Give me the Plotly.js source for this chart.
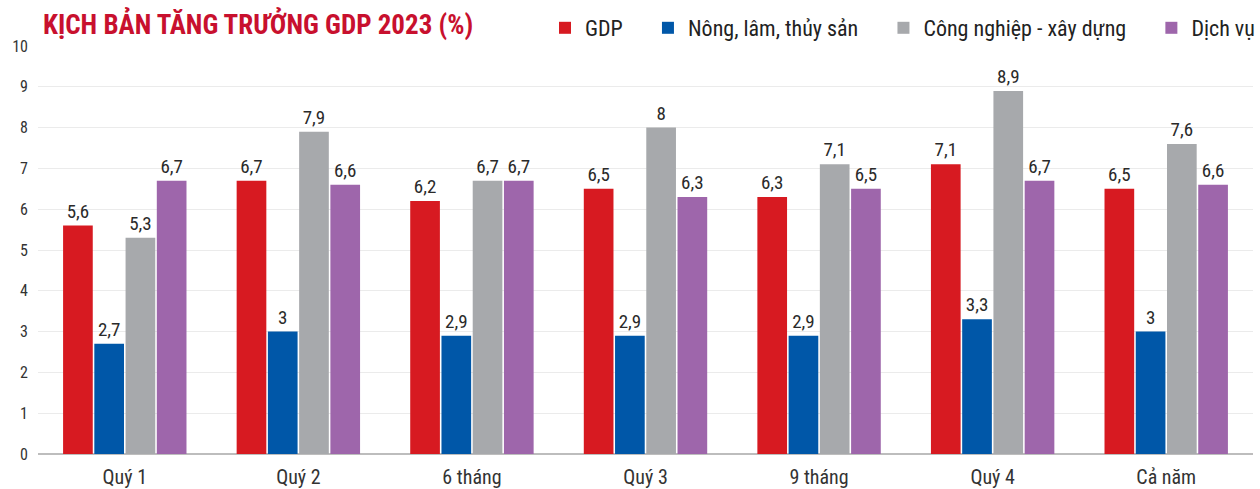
<!DOCTYPE html>
<html>
<head>
<meta charset="utf-8">
<script src="https://cdn.plot.ly/plotly-3.0.1.min.js"></script>
<style>html,body{margin:0;padding:0;background:#fff;}#chart{width:1260px;height:489px;}</style>
</head>
<body>
<div id="chart"></div>
<script>
const categories = ["Quý 1", "Quý 2", "6 tháng", "Quý 3", "9 tháng", "Quý 4", "Cả năm"];
const seriesNames = ["GDP", "Nông, lâm, thủy sản", "Công nghiệp - xây dựng", "Dịch vụ"];
const gdp = [5.6, 6.7, 6.2, 6.5, 6.3, 7.1, 6.5];
const nongLamThuySan = [2.7, 3, 2.9, 2.9, 2.9, 3.3, 3];
const congNghiepXayDung = [5.3, 7.9, 6.7, 8, 7.1, 8.9, 7.6];
const dichVu = [6.7, 6.6, 6.7, 6.3, 6.5, 6.7, 6.6];
const colors = ["#d71a21", "#0057a8", "#a7a9ac", "#9e66ab"];

const FONT = "'Roboto Condensed', 'DejaVu Sans Condensed', Roboto, sans-serif";
const fmt = v => String(v).replace(".", ",");
const PAD = "\u00a0\u00a0\u00a0\u00a0";

const allSeries = [gdp, nongLamThuySan, congNghiepXayDung, dichVu];
const traces = allSeries.map((vals, i) => ({
  type: "bar",
  name: seriesNames[i] + (i < allSeries.length - 1 ? PAD : ""),
  x: categories,
  y: vals,
  text: vals.map(fmt),
  textposition: "outside",
  constraintext: "none",
  cliponaxis: false,
  textfont: {family: FONT, size: 19, color: "#2a2a2a"},
  marker: {color: colors[i]},
  hoverinfo: "x+y"
}));

const layout = {
  width: 1260,
  height: 489,
  margin: {l: 38, r: 7, t: 46, b: 35, autoexpand: false},
  paper_bgcolor: "#fff",
  plot_bgcolor: "#fff",
  barmode: "group",
  bargap: 0.28,
  bargroupgap: 0.05,
  font: {family: FONT, color: "#333"},
  title: {
    text: "<b>KỊCH BẢN TĂNG TRƯỞNG GDP 2023 (%)</b>",
    font: {family: FONT, size: 27, color: "#c8102e"},
    xref: "container", yref: "container",
    x: 43/1260, xanchor: "left",
    y: 1 - 25/489, yanchor: "middle"
  },
  showlegend: true,
  legend: {
    orientation: "h",
    xref: "container", yref: "container",
    x: 545/1260, xanchor: "left",
    y: 1 - 28/489, yanchor: "middle",
    font: {family: FONT, size: 22, color: "#222"},
    itemwidth: 30,
    bgcolor: "rgba(0,0,0,0)"
  },
  xaxis: {
    type: "category",
    tickfont: {family: FONT, size: 20, color: "#333"},
    showgrid: false,
    showline: false,
    ticks: "",
    ticklabelstandoff: 9,
    fixedrange: true
  },
  yaxis: {
    range: [0, 10],
    dtick: 1,
    tickfont: {family: FONT, size: 16, color: "#333"},
    gridcolor: "#ebebeb",
    gridwidth: 1,
    zeroline: true,
    zerolinecolor: "#bdbdbd",
    zerolinewidth: 1.5,
    showline: false,
    ticks: "",
    ticklabelstandoff: 9,
    fixedrange: true
  }
};

Plotly.newPlot("chart", traces, layout, {displayModeBar: false, staticPlot: true});
</script>
</body>
</html>
